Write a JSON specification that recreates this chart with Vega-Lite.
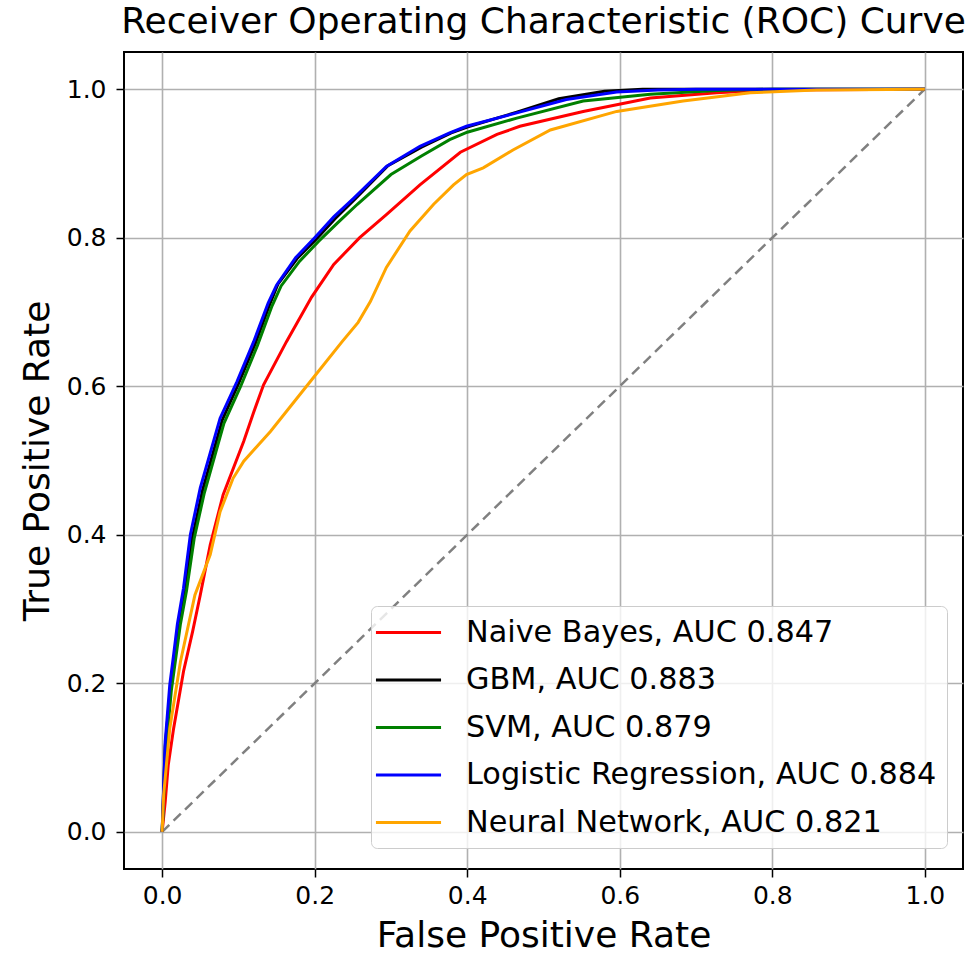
{
  "$schema": "https://vega.github.io/schema/vega-lite/v6.json",
  "width": 839,
  "height": 817,
  "autosize": {"type": "none"},
  "padding": {"left": 124, "top": 52, "right": 6, "bottom": 84},
  "background": "#ffffff",
  "title": {
    "text": "Receiver Operating Characteristic (ROC) Curve",
    "font": "DejaVu Sans",
    "fontSize": 36,
    "fontWeight": "normal",
    "color": "#000000",
    "anchor": "middle",
    "offset": 11
  },
  "config": {
    "view": {"stroke": "#000000", "strokeWidth": 2},
    "axis": {
      "domain": false,
      "grid": true,
      "gridColor": "#b0b0b0",
      "gridWidth": 1.6,
      "tickColor": "#000000",
      "tickWidth": 1.5,
      "tickSize": 8,
      "labelFont": "DejaVu Sans",
      "labelFontSize": 25,
      "labelColor": "#000000",
      "titleFont": "DejaVu Sans",
      "titleFontSize": 36,
      "titleFontWeight": "normal",
      "titleColor": "#000000"
    },
    "legend": {
      "orient": "none",
      "legendX": 247,
      "legendY": 554,
      "labelFont": "DejaVu Sans",
      "labelFontSize": 30.3,
      "labelColor": "#000000",
      "labelLimit": 0,
      "symbolType": "M-2.17,0H2.17",
      "symbolSize": 900,
      "symbolStrokeWidth": 3,
      "symbolOffset": 11,
      "rowPadding": 15.5,
      "padding": 10,
      "labelOffset": 41,
      "fillColor": "rgba(255,255,255,0.8)",
      "strokeColor": "#cccccc",
      "cornerRadius": 6
    }
  },
  "layer": [
    {
      "data": {"values": [{"fpr": 0, "tpr": 0}, {"fpr": 1, "tpr": 1}]},
      "mark": {"type": "line", "color": "#808080", "strokeWidth": 2.5, "strokeDash": [10, 6]},
      "encoding": {
        "x": {"field": "fpr", "type": "quantitative"},
        "y": {"field": "tpr", "type": "quantitative"}
      }
    },
    {
      "data": {"values": [
        {"model": "Naive Bayes, AUC 0.847", "fpr": 0, "tpr": 0},
        {"model": "Naive Bayes, AUC 0.847", "fpr": 0.004, "tpr": 0.04},
        {"model": "Naive Bayes, AUC 0.847", "fpr": 0.008, "tpr": 0.09},
        {"model": "Naive Bayes, AUC 0.847", "fpr": 0.015, "tpr": 0.139},
        {"model": "Naive Bayes, AUC 0.847", "fpr": 0.028, "tpr": 0.216},
        {"model": "Naive Bayes, AUC 0.847", "fpr": 0.04, "tpr": 0.27},
        {"model": "Naive Bayes, AUC 0.847", "fpr": 0.05, "tpr": 0.319},
        {"model": "Naive Bayes, AUC 0.847", "fpr": 0.063, "tpr": 0.386},
        {"model": "Naive Bayes, AUC 0.847", "fpr": 0.08, "tpr": 0.454},
        {"model": "Naive Bayes, AUC 0.847", "fpr": 0.107, "tpr": 0.526},
        {"model": "Naive Bayes, AUC 0.847", "fpr": 0.12, "tpr": 0.565},
        {"model": "Naive Bayes, AUC 0.847", "fpr": 0.133, "tpr": 0.602},
        {"model": "Naive Bayes, AUC 0.847", "fpr": 0.163, "tpr": 0.66},
        {"model": "Naive Bayes, AUC 0.847", "fpr": 0.196, "tpr": 0.72},
        {"model": "Naive Bayes, AUC 0.847", "fpr": 0.225, "tpr": 0.764},
        {"model": "Naive Bayes, AUC 0.847", "fpr": 0.259, "tpr": 0.8},
        {"model": "Naive Bayes, AUC 0.847", "fpr": 0.294, "tpr": 0.831},
        {"model": "Naive Bayes, AUC 0.847", "fpr": 0.338, "tpr": 0.871},
        {"model": "Naive Bayes, AUC 0.847", "fpr": 0.391, "tpr": 0.915},
        {"model": "Naive Bayes, AUC 0.847", "fpr": 0.439, "tpr": 0.939},
        {"model": "Naive Bayes, AUC 0.847", "fpr": 0.469, "tpr": 0.95},
        {"model": "Naive Bayes, AUC 0.847", "fpr": 0.552, "tpr": 0.97},
        {"model": "Naive Bayes, AUC 0.847", "fpr": 0.64, "tpr": 0.988},
        {"model": "Naive Bayes, AUC 0.847", "fpr": 0.727, "tpr": 0.995},
        {"model": "Naive Bayes, AUC 0.847", "fpr": 0.8, "tpr": 0.999},
        {"model": "Naive Bayes, AUC 0.847", "fpr": 1, "tpr": 1},

        {"model": "GBM, AUC 0.883", "fpr": 0, "tpr": 0},
        {"model": "GBM, AUC 0.883", "fpr": 0.004, "tpr": 0.115},
        {"model": "GBM, AUC 0.883", "fpr": 0.011, "tpr": 0.195},
        {"model": "GBM, AUC 0.883", "fpr": 0.016, "tpr": 0.235},
        {"model": "GBM, AUC 0.883", "fpr": 0.022, "tpr": 0.28},
        {"model": "GBM, AUC 0.883", "fpr": 0.03, "tpr": 0.325},
        {"model": "GBM, AUC 0.883", "fpr": 0.04, "tpr": 0.398},
        {"model": "GBM, AUC 0.883", "fpr": 0.053, "tpr": 0.46},
        {"model": "GBM, AUC 0.883", "fpr": 0.079, "tpr": 0.555},
        {"model": "GBM, AUC 0.883", "fpr": 0.1, "tpr": 0.603},
        {"model": "GBM, AUC 0.883", "fpr": 0.122, "tpr": 0.657},
        {"model": "GBM, AUC 0.883", "fpr": 0.141, "tpr": 0.71},
        {"model": "GBM, AUC 0.883", "fpr": 0.152, "tpr": 0.738},
        {"model": "GBM, AUC 0.883", "fpr": 0.177, "tpr": 0.772},
        {"model": "GBM, AUC 0.883", "fpr": 0.202, "tpr": 0.798},
        {"model": "GBM, AUC 0.883", "fpr": 0.227, "tpr": 0.826},
        {"model": "GBM, AUC 0.883", "fpr": 0.253, "tpr": 0.852},
        {"model": "GBM, AUC 0.883", "fpr": 0.296, "tpr": 0.897},
        {"model": "GBM, AUC 0.883", "fpr": 0.34, "tpr": 0.922},
        {"model": "GBM, AUC 0.883", "fpr": 0.379, "tpr": 0.941},
        {"model": "GBM, AUC 0.883", "fpr": 0.4, "tpr": 0.949},
        {"model": "GBM, AUC 0.883", "fpr": 0.465, "tpr": 0.969},
        {"model": "GBM, AUC 0.883", "fpr": 0.52, "tpr": 0.987},
        {"model": "GBM, AUC 0.883", "fpr": 0.58, "tpr": 0.997},
        {"model": "GBM, AUC 0.883", "fpr": 0.63, "tpr": 1.0},
        {"model": "GBM, AUC 0.883", "fpr": 1, "tpr": 1},

        {"model": "SVM, AUC 0.879", "fpr": 0, "tpr": 0},
        {"model": "SVM, AUC 0.879", "fpr": 0.005, "tpr": 0.11},
        {"model": "SVM, AUC 0.879", "fpr": 0.012, "tpr": 0.19},
        {"model": "SVM, AUC 0.879", "fpr": 0.018, "tpr": 0.235},
        {"model": "SVM, AUC 0.879", "fpr": 0.024, "tpr": 0.28},
        {"model": "SVM, AUC 0.879", "fpr": 0.032, "tpr": 0.325},
        {"model": "SVM, AUC 0.879", "fpr": 0.042, "tpr": 0.395},
        {"model": "SVM, AUC 0.879", "fpr": 0.055, "tpr": 0.455},
        {"model": "SVM, AUC 0.879", "fpr": 0.081, "tpr": 0.55},
        {"model": "SVM, AUC 0.879", "fpr": 0.103, "tpr": 0.6},
        {"model": "SVM, AUC 0.879", "fpr": 0.125, "tpr": 0.655},
        {"model": "SVM, AUC 0.879", "fpr": 0.144, "tpr": 0.708},
        {"model": "SVM, AUC 0.879", "fpr": 0.156, "tpr": 0.735},
        {"model": "SVM, AUC 0.879", "fpr": 0.18, "tpr": 0.768},
        {"model": "SVM, AUC 0.879", "fpr": 0.205, "tpr": 0.795},
        {"model": "SVM, AUC 0.879", "fpr": 0.23, "tpr": 0.82},
        {"model": "SVM, AUC 0.879", "fpr": 0.256, "tpr": 0.845},
        {"model": "SVM, AUC 0.879", "fpr": 0.3, "tpr": 0.885},
        {"model": "SVM, AUC 0.879", "fpr": 0.34, "tpr": 0.91},
        {"model": "SVM, AUC 0.879", "fpr": 0.377, "tpr": 0.932},
        {"model": "SVM, AUC 0.879", "fpr": 0.4, "tpr": 0.942},
        {"model": "SVM, AUC 0.879", "fpr": 0.465, "tpr": 0.961},
        {"model": "SVM, AUC 0.879", "fpr": 0.552, "tpr": 0.984},
        {"model": "SVM, AUC 0.879", "fpr": 0.64, "tpr": 0.993},
        {"model": "SVM, AUC 0.879", "fpr": 0.727, "tpr": 0.998},
        {"model": "SVM, AUC 0.879", "fpr": 0.8, "tpr": 1.0},
        {"model": "SVM, AUC 0.879", "fpr": 1, "tpr": 1},

        {"model": "Logistic Regression, AUC 0.884", "fpr": 0, "tpr": 0},
        {"model": "Logistic Regression, AUC 0.884", "fpr": 0.004, "tpr": 0.121},
        {"model": "Logistic Regression, AUC 0.884", "fpr": 0.01, "tpr": 0.198},
        {"model": "Logistic Regression, AUC 0.884", "fpr": 0.015, "tpr": 0.238},
        {"model": "Logistic Regression, AUC 0.884", "fpr": 0.02, "tpr": 0.28},
        {"model": "Logistic Regression, AUC 0.884", "fpr": 0.028, "tpr": 0.328},
        {"model": "Logistic Regression, AUC 0.884", "fpr": 0.037, "tpr": 0.4},
        {"model": "Logistic Regression, AUC 0.884", "fpr": 0.05, "tpr": 0.463},
        {"model": "Logistic Regression, AUC 0.884", "fpr": 0.076, "tpr": 0.557},
        {"model": "Logistic Regression, AUC 0.884", "fpr": 0.098, "tpr": 0.606},
        {"model": "Logistic Regression, AUC 0.884", "fpr": 0.12, "tpr": 0.66},
        {"model": "Logistic Regression, AUC 0.884", "fpr": 0.139, "tpr": 0.712},
        {"model": "Logistic Regression, AUC 0.884", "fpr": 0.15, "tpr": 0.736},
        {"model": "Logistic Regression, AUC 0.884", "fpr": 0.175, "tpr": 0.773},
        {"model": "Logistic Regression, AUC 0.884", "fpr": 0.2, "tpr": 0.8},
        {"model": "Logistic Regression, AUC 0.884", "fpr": 0.225, "tpr": 0.828},
        {"model": "Logistic Regression, AUC 0.884", "fpr": 0.251, "tpr": 0.853},
        {"model": "Logistic Regression, AUC 0.884", "fpr": 0.294, "tpr": 0.896},
        {"model": "Logistic Regression, AUC 0.884", "fpr": 0.338, "tpr": 0.923},
        {"model": "Logistic Regression, AUC 0.884", "fpr": 0.377, "tpr": 0.941},
        {"model": "Logistic Regression, AUC 0.884", "fpr": 0.399, "tpr": 0.95},
        {"model": "Logistic Regression, AUC 0.884", "fpr": 0.465, "tpr": 0.968},
        {"model": "Logistic Regression, AUC 0.884", "fpr": 0.53, "tpr": 0.986},
        {"model": "Logistic Regression, AUC 0.884", "fpr": 0.596, "tpr": 0.996},
        {"model": "Logistic Regression, AUC 0.884", "fpr": 0.65, "tpr": 0.999},
        {"model": "Logistic Regression, AUC 0.884", "fpr": 0.7, "tpr": 1.0},
        {"model": "Logistic Regression, AUC 0.884", "fpr": 1, "tpr": 1},

        {"model": "Neural Network, AUC 0.821", "fpr": 0, "tpr": 0},
        {"model": "Neural Network, AUC 0.821", "fpr": 0.002, "tpr": 0.05},
        {"model": "Neural Network, AUC 0.821", "fpr": 0.01, "tpr": 0.139},
        {"model": "Neural Network, AUC 0.821", "fpr": 0.024, "tpr": 0.229},
        {"model": "Neural Network, AUC 0.821", "fpr": 0.043, "tpr": 0.319},
        {"model": "Neural Network, AUC 0.821", "fpr": 0.063, "tpr": 0.373},
        {"model": "Neural Network, AUC 0.821", "fpr": 0.076, "tpr": 0.431},
        {"model": "Neural Network, AUC 0.821", "fpr": 0.093, "tpr": 0.476},
        {"model": "Neural Network, AUC 0.821", "fpr": 0.107, "tpr": 0.499},
        {"model": "Neural Network, AUC 0.821", "fpr": 0.142, "tpr": 0.539},
        {"model": "Neural Network, AUC 0.821", "fpr": 0.194, "tpr": 0.606},
        {"model": "Neural Network, AUC 0.821", "fpr": 0.236, "tpr": 0.66},
        {"model": "Neural Network, AUC 0.821", "fpr": 0.257, "tpr": 0.686},
        {"model": "Neural Network, AUC 0.821", "fpr": 0.273, "tpr": 0.714},
        {"model": "Neural Network, AUC 0.821", "fpr": 0.294, "tpr": 0.76},
        {"model": "Neural Network, AUC 0.821", "fpr": 0.325, "tpr": 0.809},
        {"model": "Neural Network, AUC 0.821", "fpr": 0.356, "tpr": 0.845},
        {"model": "Neural Network, AUC 0.821", "fpr": 0.382, "tpr": 0.871},
        {"model": "Neural Network, AUC 0.821", "fpr": 0.399, "tpr": 0.885},
        {"model": "Neural Network, AUC 0.821", "fpr": 0.421, "tpr": 0.894},
        {"model": "Neural Network, AUC 0.821", "fpr": 0.46, "tpr": 0.918},
        {"model": "Neural Network, AUC 0.821", "fpr": 0.509, "tpr": 0.945},
        {"model": "Neural Network, AUC 0.821", "fpr": 0.596, "tpr": 0.97},
        {"model": "Neural Network, AUC 0.821", "fpr": 0.683, "tpr": 0.984},
        {"model": "Neural Network, AUC 0.821", "fpr": 0.771, "tpr": 0.995},
        {"model": "Neural Network, AUC 0.821", "fpr": 0.858, "tpr": 0.999},
        {"model": "Neural Network, AUC 0.821", "fpr": 1, "tpr": 1}
      ]},
      "mark": {"type": "line", "strokeWidth": 3},
      "encoding": {
        "x": {"field": "fpr", "type": "quantitative"},
        "y": {"field": "tpr", "type": "quantitative"},
        "color": {
          "field": "model",
          "type": "nominal",
          "title": null,
          "scale": {
            "domain": ["Naive Bayes, AUC 0.847", "GBM, AUC 0.883", "SVM, AUC 0.879", "Logistic Regression, AUC 0.884", "Neural Network, AUC 0.821"],
            "range": ["#ff0000", "#000000", "#008000", "#0000ff", "#ffa500"]
          }
        }
      }
    }
  ],
  "encoding": {
    "x": {
      "field": "fpr",
      "type": "quantitative",
      "title": "False Positive Rate",
      "scale": {"domain": [-0.05, 1.05], "nice": false, "zero": false},
      "axis": {"values": [0, 0.2, 0.4, 0.6, 0.8, 1], "format": ".1f", "labelPadding": 6, "titlePadding": 10}
    },
    "y": {
      "field": "tpr",
      "type": "quantitative",
      "title": "True Positive Rate",
      "scale": {"domain": [-0.05, 1.05], "nice": false, "zero": false},
      "axis": {"values": [0, 0.2, 0.4, 0.6, 0.8, 1], "format": ".1f", "labelPadding": 10, "titlePadding": 10}
    }
  }
}
